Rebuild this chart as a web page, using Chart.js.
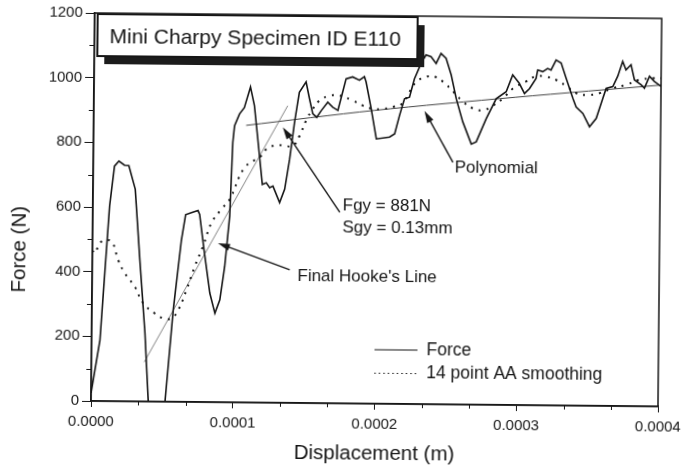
<!DOCTYPE html>
<html>
<head>
<meta charset="utf-8">
<script src="https://cdn.jsdelivr.net/npm/chart.js@4.4.1/dist/chart.umd.min.js"></script>
<style>
  body { margin: 0; background: #fff; }
  #wrap { width: 681px; height: 471px; overflow: hidden; position: relative; }
  /* the scanned original is tilted a little, clockwise */
  #chart { position: absolute; left: 0; top: 0; transform-origin: 91px 401px; transform: rotate(0.55deg); }
</style>
</head>
<body>
<div id="wrap"><canvas id="chart" width="681" height="471"></canvas></div>
<script>
// Force trace (displacement in m, force in N)
const forceX = [0, 0.0000059, 0.0000118, 0.0000150, 0.0000181, 0.0000221, 0.0000251, 0.0000298, 0.0000335, 0.0000376,
  0.0000404, 0.0000522, 0.0000574, 0.0000627, 0.0000655, 0.0000695, 0.0000742, 0.0000754, 0.0000787, 0.0000831,
  0.0000868, 0.0000902, 0.0000934, 0.0000966, 0.0000983, 0.0000994, 0.0001028, 0.0001062, 0.0001104, 0.0001133,
  0.0001159, 0.0001194, 0.0001222, 0.0001246, 0.0001269, 0.0001317, 0.0001352, 0.0001385, 0.0001417, 0.0001449,
  0.0001496, 0.0001521, 0.0001545, 0.0001573, 0.0001605, 0.0001650, 0.0001685, 0.0001722, 0.0001778, 0.0001824,
  0.0001872, 0.0001907, 0.0001919, 0.0001957, 0.0001995, 0.0002088, 0.0002124, 0.0002157, 0.0002191, 0.0002226,
  0.0002260, 0.0002306, 0.0002340, 0.0002376, 0.0002412, 0.0002446, 0.0002482, 0.0002519, 0.0002556, 0.0002604,
  0.0002665, 0.0002700, 0.0002769, 0.0002838, 0.0002908, 0.0002953, 0.0003000, 0.0003037, 0.0003072, 0.0003118,
  0.0003129, 0.0003165, 0.0003199, 0.0003223, 0.0003258, 0.0003294, 0.0003330, 0.0003379, 0.0003402, 0.0003450,
  0.0003498, 0.0003545, 0.0003590, 0.0003613, 0.0003660, 0.0003694, 0.0003728, 0.0003752, 0.0003787, 0.0003812,
  0.0003860, 0.0003883, 0.0003918, 0.0003953, 0.0004000];
const forceY = [25, 188, 603, 727, 743, 730, 729, 656, 438, 212,
  0, 0, 284, 501, 579, 585, 592, 580, 471, 337,
  275, 317, 420, 576, 804, 855, 892, 912, 976, 918,
  815, 675, 680, 665, 670, 619, 661, 754, 868, 961,
  993, 941, 895, 884, 905, 931, 916, 906, 1004, 1010,
  1000, 1011, 995, 912, 819, 825, 835, 892, 944, 949,
  1006, 1054, 1080, 1075, 1054, 1085, 1070, 1019, 946, 874,
  806, 813, 885, 947, 969, 1021, 995, 964, 979, 1011,
  1037, 1032, 1042, 1037, 1068, 1059, 1012, 950, 924, 904,
  863, 889, 951, 982, 988, 1020, 1066, 1040, 1056, 1009,
  994, 984, 1021, 1005, 990];

// 14 point AA smoothing
const smoothX = [0, 0.0000016, 0.0000062, 0.0000133, 0.0000182, 0.0000230, 0.0000301, 0.0000361, 0.0000444, 0.0000503,
  0.0000562, 0.0000609, 0.0000666, 0.0000723, 0.0000780, 0.0000837, 0.0000907, 0.0000965, 0.0001067, 0.0001184,
  0.0001220, 0.0001289, 0.0001349, 0.0001407, 0.0001453, 0.0001499, 0.0001545, 0.0001592, 0.0001661, 0.0001732,
  0.0001826, 0.0001896, 0.0001967, 0.0002037, 0.0002106, 0.0002176, 0.0002225, 0.0002274, 0.0002344, 0.0002404,
  0.0002464, 0.0002535, 0.0002606, 0.0002677, 0.0002747, 0.0002816, 0.0002886, 0.0002955, 0.0003044, 0.0003114,
  0.0003184, 0.0003264, 0.0003335, 0.0003405, 0.0003475, 0.0003565, 0.0003655, 0.0003755, 0.0003844, 0.0003944,
  0.0004000];
const smoothY = [465, 457, 493, 494, 437, 396, 355, 304, 273, 258,
  258, 284, 346, 419, 482, 554, 597, 628, 726, 763,
  784, 797, 795, 795, 826, 874, 910, 936, 951, 952,
  937, 922, 912, 912, 918, 929, 965, 997, 1013, 1013,
  997, 967, 936, 916, 911, 926, 948, 979, 1000, 1017,
  1017, 1006, 987, 966, 961, 967, 982, 994, 1009, 1015,
  1015];

// fitted lines
const hookeX = [0.0000373, 0.0001368];
const hookeY = [122, 919];
const polyX = [0.0001076, 0.0001977, 0.0002976, 0.0004000];
const polyY = [857, 907, 952, 994];

// callouts: text, where the text sits, arrow tail and arrow head (data units)
const noteText = [['Polynomial'], ['Fgy = 881N', 'Sgy = 0.13mm'], ["Final Hooke's Line"]];
const noteAt = [[0.0002550, 731], [0.0001762, 610], [0.0001448, 392]];
const arrowFrom = [[0.0002537, 749], [0.0001742, 591], [0.0001393, 412]];
const arrowTo = [[0.0002333, 907], [0.0001335, 852], [0.0000885, 492]];

const chartTitle = 'Mini Charpy Specimen ID E110';
const legendNames = ['Force', '14 point AA smoothing'];

const FONT = "'Liberation Sans', Arial, sans-serif";
const INK = '#161616';

function pts(xs, ys) {
    return xs.map((x, i) => ({ x: x, y: ys[i] }));
}

function arrow(c, x1, y1, x2, y2) {
    const ang = Math.atan2(y2 - y1, x2 - x1);
    c.beginPath();
    c.moveTo(x1, y1);
    c.lineTo(x2 - 8 * Math.cos(ang), y2 - 8 * Math.sin(ang));
    c.stroke();
    c.beginPath();
    c.moveTo(x2, y2);
    c.lineTo(x2 - 12 * Math.cos(ang) + 3.5 * Math.sin(ang), y2 - 12 * Math.sin(ang) - 3.5 * Math.cos(ang));
    c.lineTo(x2 - 12 * Math.cos(ang) - 3.5 * Math.sin(ang), y2 - 12 * Math.sin(ang) + 3.5 * Math.cos(ang));
    c.closePath();
    c.fill();
}

const extrasPlugin = {
    id: 'extras',
    afterDatasetsDraw(chart) {
        const c = chart.ctx;
        const a = chart.chartArea;
        const xs = chart.scales.x;
        const ys = chart.scales.y;
        c.save();
        c.strokeStyle = INK;
        c.fillStyle = INK;

        // frame
        c.lineWidth = 1.5;
        c.strokeRect(a.left, a.top, a.right - a.left, a.bottom - a.top);

        // minor ticks
        c.lineWidth = 1;
        for (let v = 100; v < 1200; v += 200) {
            const y = Math.round(ys.getPixelForValue(v)) + 0.5;
            c.beginPath(); c.moveTo(a.left - 5, y); c.lineTo(a.left, y); c.stroke();
        }
        for (let k = 1; k < 12; k++) {
            if (k % 3 === 0) continue;
            const x = Math.round(xs.getPixelForValue(k * 0.0001 / 3)) + 0.5;
            c.beginPath(); c.moveTo(x, a.bottom); c.lineTo(x, a.bottom + 4); c.stroke();
        }

        // callouts
        c.font = '17px ' + FONT;
        c.textBaseline = 'middle';
        c.textAlign = 'left';
        c.lineWidth = 1.4;
        for (let i = 0; i < noteText.length; i++) {
            const tx = xs.getPixelForValue(noteAt[i][0]);
            const ty = ys.getPixelForValue(noteAt[i][1]);
            noteText[i].forEach((t, j) => c.fillText(t, tx, ty + j * 21.5));
            arrow(c, xs.getPixelForValue(arrowFrom[i][0]), ys.getPixelForValue(arrowFrom[i][1]),
                xs.getPixelForValue(arrowTo[i][0]), ys.getPixelForValue(arrowTo[i][1]));
        }

        // legend
        const lx = a.left + 283;
        const ly = a.top + 334;
        c.lineWidth = 1.2;
        c.beginPath(); c.moveTo(lx, ly); c.lineTo(lx + 43, ly); c.stroke();
        c.setLineDash([1.5, 3]);
        c.lineWidth = 1;
        c.beginPath(); c.moveTo(lx, ly + 23.5); c.lineTo(lx + 43, ly + 23.5); c.stroke();
        c.setLineDash([]);
        c.font = '17.5px ' + FONT;
        c.fillText(legendNames[0], lx + 52, ly);
        c.fillText(legendNames[1], lx + 52, ly + 23.5);

        // title box with drop shadow
        const bx = a.left + 3, by = a.top + 1, bw = 320, bh = 42;
        c.fillStyle = '#1c1c1c';
        c.fillRect(bx + 7, by + 8, bw, bh);
        c.fillStyle = '#fff';
        c.fillRect(bx, by, bw, bh);
        c.lineWidth = 2;
        c.strokeRect(bx, by, bw, bh);
        c.fillStyle = INK;
        c.font = '21px ' + FONT;
        c.fillText(chartTitle, bx + 12, by + 23);

        // axis titles
        c.font = '20.5px ' + FONT;
        c.textAlign = 'center';
        c.fillText('Displacement (m)', (a.left + a.right) / 2, 451);
        c.translate(18, (a.top + a.bottom) / 2 + 43);
        c.rotate(-Math.PI / 2);
        c.fillText('Force (N)', 0, 0);
        c.restore();
    }
};

const ctx = document.getElementById('chart').getContext('2d');
new Chart(ctx, {
    type: 'line',
    data: {
        datasets: [{
            label: 'Force',
            data: pts(forceX, forceY),
            borderColor: INK,
            borderWidth: 1.6,
            pointRadius: 0,
            tension: 0
        }, {
            label: '14 point AA smoothing',
            data: pts(smoothX, smoothY),
            borderColor: INK,
            borderWidth: 2,
            borderDash: [2, 6],
            pointRadius: 0,
            tension: 0.4
        }, {
            label: "Final Hooke's Line",
            data: pts(hookeX, hookeY),
            borderColor: '#666',
            borderWidth: 0.8,
            pointRadius: 0
        }, {
            label: 'Polynomial',
            data: pts(polyX, polyY),
            borderColor: '#444',
            borderWidth: 1,
            pointRadius: 0,
            tension: 0.3
        }]
    },
    options: {
        responsive: false,
        animation: false,
        layout: { autoPadding: false, padding: { top: 13, right: 23, left: 0, bottom: 0 } },
        plugins: {
            legend: { display: false },
            tooltip: { enabled: false }
        },
        scales: {
            x: {
                type: 'linear',
                min: 0,
                max: 0.0004,
                afterFit: (s) => { s.height = 70; s.paddingLeft = 0; s.paddingRight = 0; },
                ticks: {
                    stepSize: 0.0001,
                    maxRotation: 0,
                    padding: 6,
                    color: INK,
                    font: { family: FONT, size: 15 },
                    callback: (v) => v.toFixed(4)
                },
                grid: { drawOnChartArea: false, tickLength: 6, color: INK, lineWidth: 1 },
                border: { color: INK, width: 1.5 }
            },
            y: {
                min: 0,
                max: 1200,
                afterFit: (s) => { s.width = 91; s.paddingTop = 0; s.paddingBottom = 0; },
                ticks: {
                    stepSize: 200,
                    padding: 3,
                    color: INK,
                    font: { family: FONT, size: 15 },
                    callback: (v) => String(v)
                },
                grid: { drawOnChartArea: false, tickLength: 9, color: INK, lineWidth: 1 },
                border: { color: INK, width: 1.5 }
            }
        }
    },
    plugins: [extrasPlugin]
});
</script>
</body>
</html>
